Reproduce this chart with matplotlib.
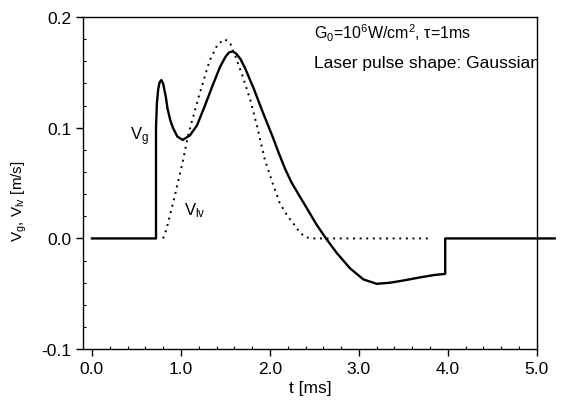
import matplotlib
matplotlib.use("Agg")
import matplotlib.pyplot as plt
from matplotlib.ticker import MultipleLocator, FormatStrFormatter

plt.rcParams['font.family'] = ['Liberation Sans', 'DejaVu Sans']
plt.rcParams['mathtext.fontset'] = 'custom'
plt.rcParams['mathtext.rm'] = 'Liberation Sans'
plt.rcParams['mathtext.it'] = 'Liberation Sans'

# V_g (solid) : t [ms], value [m/s]
t_g = [0.0, 0.72, 0.72, 0.73, 0.745, 0.76, 0.78, 0.80, 0.83, 0.85, 0.88, 0.91, 0.96,
       1.02, 1.10, 1.18, 1.27, 1.36, 1.44, 1.50, 1.54, 1.58, 1.62, 1.67, 1.72, 1.82, 1.92, 2.03,
       2.10, 2.17, 2.24, 2.32, 2.41, 2.52, 2.63, 2.75, 2.90, 3.05, 3.20, 3.35, 3.50,
       3.70, 3.85, 3.97, 3.97, 5.2]
v_g = [0.0, 0.0, 0.10, 0.122, 0.135, 0.141, 0.143, 0.140, 0.128, 0.117, 0.107, 0.100, 0.092,
       0.089, 0.093, 0.102, 0.120, 0.139, 0.155, 0.164, 0.168, 0.169, 0.167, 0.162, 0.154, 0.135, 0.114, 0.092,
       0.077, 0.063, 0.051, 0.040, 0.028, 0.013, 0.0, -0.013, -0.027, -0.037, -0.041, -0.040, -0.038,
       -0.035, -0.033, -0.032, 0.0, 0.0]

# V_lv (dotted)
t_lv = [0.80, 0.84, 0.93, 1.02, 1.08, 1.20, 1.32, 1.41, 1.49, 1.55, 1.62, 1.70, 1.78,
        1.86, 1.94, 2.03, 2.11, 2.20, 2.26, 2.33, 2.40, 2.50, 3.80]
v_lv = [0.0, 0.009, 0.038, 0.069, 0.093, 0.128, 0.160, 0.175, 0.180, 0.177, 0.163, 0.145, 0.125,
        0.100, 0.072, 0.050, 0.032, 0.020, 0.014, 0.006, 0.001, 0.0, 0.0]

x_ticks = [0.0, 1.0, 2.0, 3.0, 4.0, 5.0]
y_ticks = [-0.1, 0.0, 0.1, 0.2]

fig = plt.figure(figsize=(5.61, 4.10), dpi=100)
ax = fig.add_axes([0.148, 0.146, 0.809, 0.810])

ax.plot(t_g, v_g, color='black', lw=1.7, clip_on=False, solid_joinstyle='round')
ax.plot(t_lv, v_lv, color='black', lw=1.4, linestyle=(0, (1, 2.4)))

ax.set_xlim(-0.1, 5.0)
ax.set_ylim(-0.1, 0.2)
ax.set_xticks(x_ticks)
ax.set_yticks(y_ticks)
ax.xaxis.set_major_formatter(FormatStrFormatter('%.1f'))
ax.yaxis.set_major_formatter(FormatStrFormatter('%.1f'))
ax.xaxis.set_minor_locator(MultipleLocator(0.2))
ax.yaxis.set_minor_locator(MultipleLocator(0.02))
ax.tick_params(which='major', direction='out', length=5, width=1.0, labelsize=12.5)
ax.tick_params(which='minor', direction='in', length=2.5, width=0.8)
for s in ax.spines.values():
    s.set_linewidth(1.0)

ax.set_xlabel('t [ms]', fontsize=12.5, labelpad=3)
ax.set_ylabel('V$_g$, V$_{lv}$ [m/s]', fontsize=11)
ax.yaxis.set_label_coords(-0.118, 0.45)

ax.text(0.43, 0.093, 'V$_g$', fontsize=12, ha='left', va='center')
ax.text(1.03, 0.026, 'V$_{lv}$', fontsize=12, ha='left', va='center')

ax.text(2.5, 0.186, 'G$_0$=10$^6$W/cm$^2$, τ=1ms', fontsize=11.5, ha='left', va='center')
ax.text(2.5, 0.159, 'Laser pulse shape: Gaussian', fontsize=12.5, ha='left', va='center',
        clip_on=True)

fig.savefig('out.png', dpi=100)
